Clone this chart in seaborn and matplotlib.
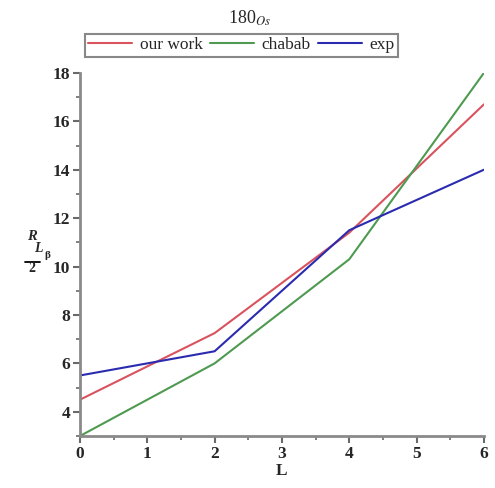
import matplotlib
matplotlib.use("Agg")
import matplotlib.pyplot as plt
import seaborn as sns
import pandas as pd
from matplotlib.lines import Line2D
from matplotlib.ticker import MultipleLocator

# Energy ratios for 180Os versus L
L_values = [0, 2, 4, 6]
our_work = [4.5, 7.25, 11.4, 16.7]
chabab = [3.0, 6.0, 10.3, 18.0]
exp = [5.5, 6.5, 11.5, 14.0]
series_names = ["our work", "chabab", "exp"]
series_colors = ["#d9535f", "#4e9a50", "#2b2bb0"]

frames = []
for name, vals in zip(series_names, [our_work, chabab, exp]):
    frames.append(pd.DataFrame({"L": L_values, "R": vals, "series": name}))
df = pd.concat(frames, ignore_index=True)

sns.set_style("ticks")
plt.rcParams["font.family"] = ["Liberation Serif", "DejaVu Serif"]
plt.rcParams["mathtext.fontset"] = "stix"

W, H = 495, 488
fig = plt.figure(figsize=(W / 100, H / 100), dpi=100)
ax = fig.add_axes([0.1616, 0.1066, 0.816, 0.744])

sns.lineplot(data=df, x="L", y="R", hue="series", hue_order=series_names,
             palette=series_colors, linewidth=1.5, ax=ax, legend=False)

ax.set_xlim(0, 6)
ax.set_ylim(3, 18)
ax.xaxis.set_major_locator(MultipleLocator(1))
ax.xaxis.set_minor_locator(MultipleLocator(0.5))
ax.yaxis.set_major_locator(MultipleLocator(2))
ax.yaxis.set_minor_locator(MultipleLocator(1))

for side in ["top", "right"]:
    ax.spines[side].set_visible(False)
for side in ["left", "bottom"]:
    ax.spines[side].set_color("#8a8a8a")
    ax.spines[side].set_linewidth(2)

ax.tick_params(which="major", direction="out", length=5, width=1.5,
               color="#6a6a6a", labelsize=12.5, pad=2)
ax.tick_params(which="minor", direction="out", length=3, width=1.2,
               color="#6a6a6a")
for lab in ax.get_xticklabels() + ax.get_yticklabels():
    lab.set_fontweight("bold")

ax.set_xlabel("L", fontsize=12.5, fontweight="bold", labelpad=1)
ax.set_ylabel("")


def px(x, y):
    """Pixel position (from top-left) to figure fraction."""
    return x / W, 1 - y / H


# y-axis label: R with a stacked L_beta over 2 subscript
fig.text(*px(32, 236), "R", fontsize=10.5, style="italic", fontweight="bold",
         ha="center", va="center")
fig.text(*px(38.5, 249), "L", fontsize=10, style="italic", fontweight="bold",
         ha="center", va="center")
fig.text(*px(47, 256), "β", fontsize=8, fontweight="bold",
         ha="center", va="center")
x0, y0 = px(25, 262)
x1, _ = px(40, 262)
fig.add_artist(Line2D([x0, x1], [y0, y0], transform=fig.transFigure,
                      color="black", lw=1.3))
fig.text(*px(32, 269), "2", fontsize=10, fontweight="bold",
         ha="center", va="center")

fig.text(0.505, 0.962, r"180$_{\mathit{Os}}$", fontsize=13,
         ha="center", va="center")

handles = [Line2D([0], [0], color=c, lw=1.5) for c in series_colors]
leg = fig.legend(handles, series_names, loc="center", ncol=3,
                 bbox_to_anchor=(0.488, 0.907), fontsize=12.5,
                 frameon=True, fancybox=False, handlelength=2.5,
                 handletextpad=0.45, columnspacing=0.45, borderpad=0.18,
                 borderaxespad=0)
leg.get_frame().set_edgecolor("#6a6a6a")
leg.get_frame().set_linewidth(1.5)

fig.savefig("out.png", dpi=100)
